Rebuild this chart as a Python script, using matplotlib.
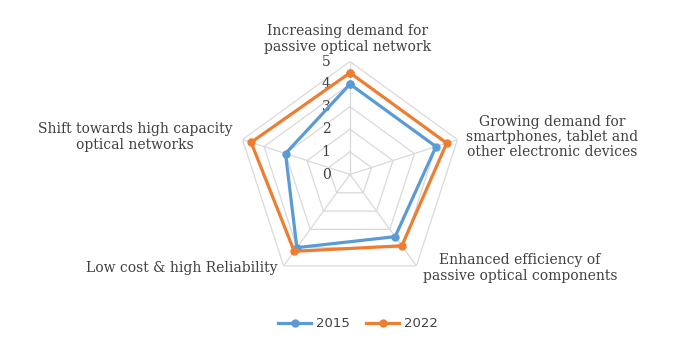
import numpy as np
import matplotlib
matplotlib.use("Agg")
import matplotlib.pyplot as plt

# ------------------------------------------------------------
# data
# ------------------------------------------------------------
categories = [
    "Increasing demand for\npassive optical network",
    "Growing demand for\nsmartphones, tablet and\nother electronic devices",
    "Enhanced efficiency of\npassive optical components",
    "Low cost & high Reliability",
    "Shift towards high capacity\noptical networks",
]
values_2015 = [4.0, 4.0, 3.4, 4.0, 3.0]
values_2022 = [4.5, 4.5, 3.9, 4.2, 4.6]
ticks = [0, 1, 2, 3, 4, 5]

blue = "#5B9BD5"
orange = "#ED7D31"
grid_c = "#D9D9D9"
text_c = "#404040"

n = len(categories)
angles = np.linspace(0, 2 * np.pi, n, endpoint=False)
closed = np.append(angles, angles[0])

fig = plt.figure(figsize=(6.76, 3.57), dpi=100)
ax = fig.add_axes([0.3506, 0.1947, 0.3343, 0.633], projection="polar")
ax.set_theta_zero_location("N")
ax.set_theta_direction(-1)
ax.set_ylim(0, 5)
ax.grid(False)
ax.spines["polar"].set_visible(False)
ax.set_xticks([])
ax.set_yticks([])
ax.patch.set_alpha(0)

# pentagon grid
for t in ticks[1:]:
    ax.plot(closed, [t] * (n + 1), color=grid_c, lw=0.9, zorder=1)
for a in angles:
    ax.plot([a, a], [0, 5], color=grid_c, lw=0.9, zorder=1)

# radial tick labels
for t in ticks:
    ax.annotate(str(t), xy=(0, t), xytext=(-14, 0), textcoords="offset points",
                ha="right", va="center", fontsize=10, family="DejaVu Serif",
                color=text_c)

# series
ax.plot(closed, values_2015 + values_2015[:1], color=blue, lw=2.3,
        marker="o", ms=5, label="2015", zorder=3)
ax.plot(closed, values_2022 + values_2022[:1], color=orange, lw=2.3,
        marker="o", ms=5, label="2022", zorder=3)

# category labels (pixel centres)
label_pos = [(348, 39), (552, 137), (520, 268), (182, 268), (135, 137)]
for lab, (px, py) in zip(categories, label_pos):
    fig.text(px / 676, 1 - py / 357, lab, ha="center", va="center", fontsize=10,
             family="DejaVu Serif", color=text_c, linespacing=1.1)

fig.legend(loc="center", bbox_to_anchor=(0.53, 0.093), ncol=2, frameon=False,
           fontsize=9.5, handlelength=2.5, columnspacing=1.2, handletextpad=0.4,
           labelcolor=text_c)

fig.savefig("out.png", dpi=100)
